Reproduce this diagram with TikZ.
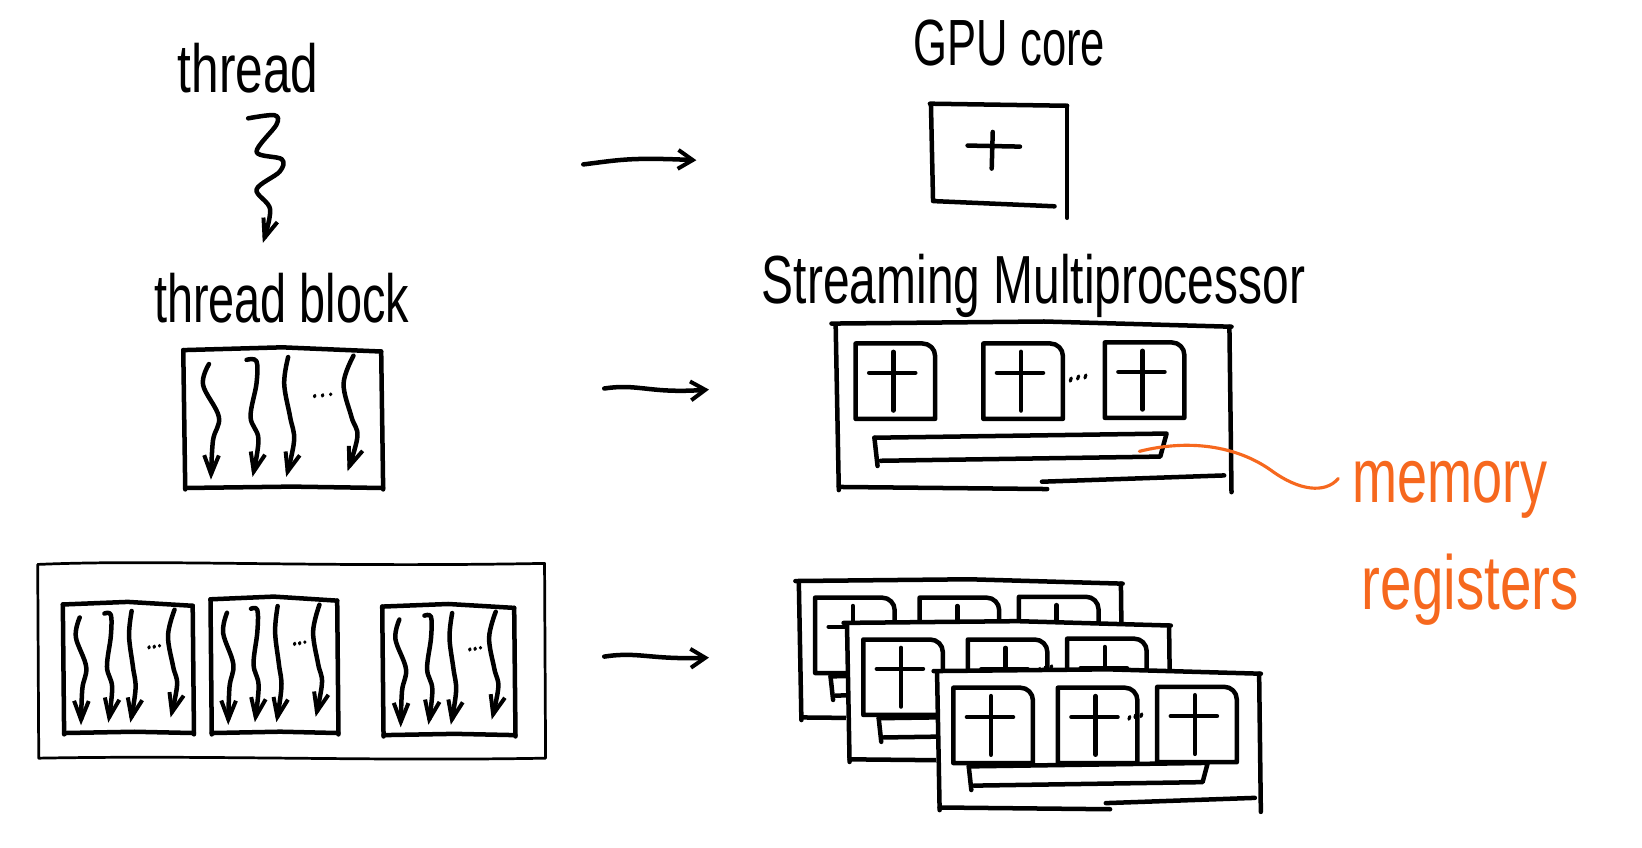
\documentclass[tikz,border=0pt]{standalone}
\usepackage{fontspec}
\setmainfont{Liberation Sans}
\usetikzlibrary{arrows.meta}
\definecolor{hlorange}{RGB}{246,104,30}
\newcommand\hwtext[3]{\scalebox{#1}[#2]{#3}}
\tikzset{
  ink/.style={line width=4.3pt, line cap=round, line join=round},
  thinink/.style={line width=2.6pt, line cap=round, line join=round},
  dotink/.style={line width=3pt, line cap=round},
  lbl/.style={font=\fontsize{52}{60}\selectfont, inner sep=0pt, anchor=base},
  olbl/.style={font=\fontsize{60}{70}\selectfont, text=hlorange, inner sep=0pt, anchor=base},
  flow/.style={ink, -{Straight Barb[length=14pt,width=18pt,line width=3.8pt]}},
  wave/.style={ink, -{Straight Barb[length=18pt,width=14pt,line width=3.8pt]}},
  orangeline/.style={line width=3pt, line cap=round, draw=hlorange},
  tblock/.pic={
    \fill[white] (0,0) rectangle (1,1);
    \draw[ink] (0,0.01) -- (0.5,-0.01) -- (1,0.02);
    \draw[ink] (0,0.01) -- (0.01,1.01);
    \draw[ink] (1,0.02) -- (1.01,1.01);
    \draw[ink] (0.01,1.0) -- (0.55,0.99) -- (1.01,1.0);
    \draw[wave] plot[smooth,tension=0.6] coordinates {(0.13,0.11) (0.10,0.26) (0.18,0.49) (0.15,0.66) (0.14,0.94)};
    \draw[wave] plot[smooth,tension=0.6] coordinates {(0.32,0.08) (0.37,0.09) (0.37,0.25) (0.34,0.49) (0.38,0.65) (0.35,0.92)};
    \draw[wave] plot[smooth,tension=0.6] coordinates {(0.53,0.06) (0.51,0.25) (0.54,0.49) (0.56,0.66) (0.52,0.92)};
    \draw[wave] plot[smooth,tension=0.6] coordinates {(0.86,0.05) (0.81,0.25) (0.85,0.49) (0.88,0.63) (0.83,0.88)};
    \draw[dotink] (0.665,0.335) -- (0.663,0.345) (0.705,0.33) -- (0.703,0.34) (0.745,0.325) -- (0.745,0.33);
  },
  core/.pic={
    \draw[ink] (0,72) -- (0,0) -- (64,0) to[out=0,in=90] (76,12) -- (76,72) -- cycle;
    \draw[ink] (13,28) -- (57,28);
    \draw[ink] (36,8) -- (36,64);
  },
  smpic/.pic={
    \fill[white] (0,0) rectangle (378,158);
    \draw[ink] (-3,1) -- (200,-1) -- (379,4);
    \draw[ink] (1,2) -- (4,160);
    \draw[ink] (377,4) -- (379,162);
    \draw[ink] (4,157) -- (203,159);
    \draw[ink] (198,152) -- (372,146);
    \pic at (20,20) {core};
    \pic at (142,20) {core};
    \pic at (258,19) {core};
    \draw[dotink] (226,53)--(225,56) (233,51)--(232,54) (240,50)--(239,53);
    \draw[ink] (38,110) -- (317,106) -- (311,128) -- (44,132);
    \draw[ink] (38,110) -- (41,137);
  },
}
\begin{document}
\begin{tikzpicture}[x=1pt,y=-1pt]
\useasboundingbox (0,0) rectangle (1568,809);

% ---------- labels ----------
\node[lbl] (thread) at (237,88) {\hwtext{0.91}{1.25}{thread}};
\node[lbl] (tblocklbl) at (269,308) {\hwtext{0.86}{1.25}{thread block}};
\node[lbl] (gpulbl) at (964,63) {\hwtext{0.8}{1.2}{GPU core}};
\node[lbl] (smlbl) at (987,290) {\hwtext{0.88}{1.25}{Streaming Multiprocessor}};
\node[olbl] (memlbl) at (1385,480) {\hwtext{0.86}{1.22}{memory}};
\node[olbl] (reglbl) at (1404,582) {\hwtext{0.9}{1.22}{registers}};

% ---------- thread squiggle ----------
\coordinate (sqs) at (237,113);
\coordinate (sqe) at (251,232);
\draw[wave] plot[smooth,tension=0.55] coordinates {(sqs) (262,110) (264,119) (245,145) (269,152) (267,164) (245,181) (258,200) (sqe)};

% ---------- thread block ----------
\pic[xscale=189,yscale=133] (tb) at (175,333) {tblock};

% ---------- grid of blocks ----------
\draw[thinink] (36,539) .. controls (150,534) and (300,542) .. (520,538) -- (521,724) .. controls (350,727) and (200,721) .. (37,724) -- cycle;
\pic[xscale=124,yscale=124] (g1) at (60,576) {tblock};
\pic[xscale=121,yscale=129] (g2) at (201,571) {tblock};
\pic[xscale=126,yscale=124] (g3) at (365,578) {tblock};

% ---------- GPU core ----------
\draw[ink] (888,99) -- (1019,101);
\draw[ink] (889,100) -- (891,192) -- (1007,197);
\draw[ink] (1019,101) -- (1019,208);
\draw[ink] (924,139) -- (974,140);
\draw[ink] (948,126) -- (947,161);

% ---------- streaming multiprocessor ----------
\pic (sm) at (797,308) {smpic};

% ---------- stack of SMs ----------
\pic[xscale=0.818,yscale=0.835] (smback) at (762,554) {smpic};
\pic[xscale=0.818,yscale=0.835] (smmid) at (808,594) {smpic};
\pic[xscale=0.818,yscale=0.835] (smfront) at (894,640) {smpic};

% ---------- mapping arrows ----------
\coordinate (a1s) at (557,157); \coordinate (a1e) at (665,153);
\coordinate (a2s) at (577,371); \coordinate (a2e) at (677,372);
\coordinate (a3s) at (577,627); \coordinate (a3e) at (677,628);
\draw[flow] (a1s) .. controls (590,153) and (600,150) .. (a1e);
\draw[flow] (a2s) .. controls (610,366) and (620,376) .. (a2e);
\draw[flow] (a3s) .. controls (610,622) and (620,630) .. (a3e);

% ---------- memory pointer ----------
\coordinate (mems) at (1088,431);
\coordinate (meme) at (1278,457);
\draw[orangeline] (mems) .. controls (1140,418) and (1185,428) .. (1215,450) .. controls (1240,468) and (1265,472) .. (meme);
\end{tikzpicture}
\end{document}
